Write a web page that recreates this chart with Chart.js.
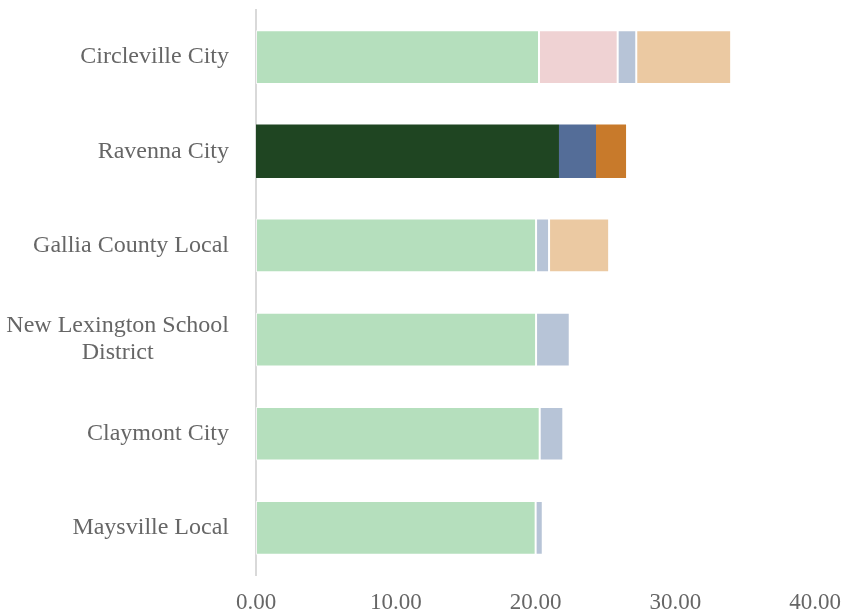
<!DOCTYPE html>
<html>
<head>
<meta charset="utf-8">
<script src="https://cdn.jsdelivr.net/npm/chart.js@4"></script>
<style>
  html, body { margin: 0; padding: 0; background: #fff; }
  #wrap { width: 842px; height: 616px; position: relative; }
</style>
</head>
<body>
<div id="wrap"><canvas id="grafico"></canvas></div>
<script>
// Dados
const distritos = ['Circleville City', 'Ravenna City', 'Gallia County Local',
  ['New Lexington School', 'District'], 'Claymont City', 'Maysville Local'];
const parte1 = [20.25, 21.68, 20.04, 20.04, 20.30, 20.01];
const parte2 = [5.63, 0, 0, 0, 0, 0];
const parte3 = [1.33, 2.65, 0.93, 2.41, 1.69, 0.51];
const parte4 = [6.79, 2.15, 4.30, 0, 0, 0];
const ticksX = [0, 10, 20, 30, 40];

const fonte = '"Liberation Serif", "Times New Roman", serif';
const corTexto = '#666666';

// cores: o distrito em destaque (Ravenna) usa tons escuros, sem borda
const destaque = 1;
function cores(clara, escura) {
    return distritos.map((d, i) => i === destaque ? escura : clara);
}

const serie = (dados, clara, escura) => ({
    data: dados,
    backgroundColor: cores(clara, escura),
    borderColor: 'rgba(255,255,255,0.7)',
    borderWidth: distritos.map((d, i) => i === destaque ? 0 : 1),
    borderSkipped: false,
    barPercentage: 0.57,
    categoryPercentage: 1
});

// rótulos do eixo y: bloco alinhado à direita, linhas centralizadas entre si
const rotulosY = {
    id: 'rotulosY',
    afterDraw(chart) {
        const eixo = chart.scales.y;
        const ctx = chart.ctx;
        ctx.save();
        ctx.font = '24px ' + fonte;
        ctx.fillStyle = corTexto;
        ctx.textAlign = 'center';
        ctx.textBaseline = 'middle';
        const direita = eixo.right - 27;
        distritos.forEach((rot, i) => {
            const linhas = Array.isArray(rot) ? rot : [rot];
            const larg = Math.max(...linhas.map(l => ctx.measureText(l).width));
            const cx = direita - larg / 2;
            const cy = eixo.getPixelForValue(i);
            linhas.forEach((l, j) => {
                ctx.fillText(l, cx, cy + (j - (linhas.length - 1) / 2) * 27);
            });
        });
        ctx.restore();
    }
};

new Chart(document.getElementById('grafico'), {
    type: 'bar',
    data: {
        labels: distritos,
        datasets: [
            serie(parte1, '#b5dfbd', '#1f4522'),
            serie(parte2, '#efd2d3', '#efd2d3'),
            serie(parte3, '#b7c4d7', '#546d98'),
            serie(parte4, '#ebc9a2', '#c87a2b')
        ]
    },
    plugins: [rotulosY],
    options: {
        indexAxis: 'y',
        responsive: true,
        maintainAspectRatio: false,
        animation: false,
        layout: { padding: { top: 10, right: 0, bottom: 0, left: 0 } },
        plugins: {
            legend: { display: false },
            tooltip: { enabled: false }
        },
        scales: {
            x: {
                stacked: true,
                min: 0,
                max: 40,
                afterBuildTicks: eixo => { eixo.ticks = ticksX.map(v => ({ value: v })); },
                afterFit: eixo => {
                    eixo.height = 41;
                    eixo.paddingRight = 27;
                },
                grid: { display: false, drawTicks: false },
                border: { display: false },
                ticks: {
                    padding: 14,
                    color: corTexto,
                    font: { family: fonte, size: 23 },
                    callback: v => Number(v).toFixed(2)
                }
            },
            y: {
                stacked: true,
                afterFit: eixo => { eixo.width = 256; },
                grid: { display: false, drawTicks: false },
                border: { display: true, color: '#d9d9d9', width: 2 },
                ticks: { display: false }
            }
        }
    }
});
</script>
</body>
</html>
